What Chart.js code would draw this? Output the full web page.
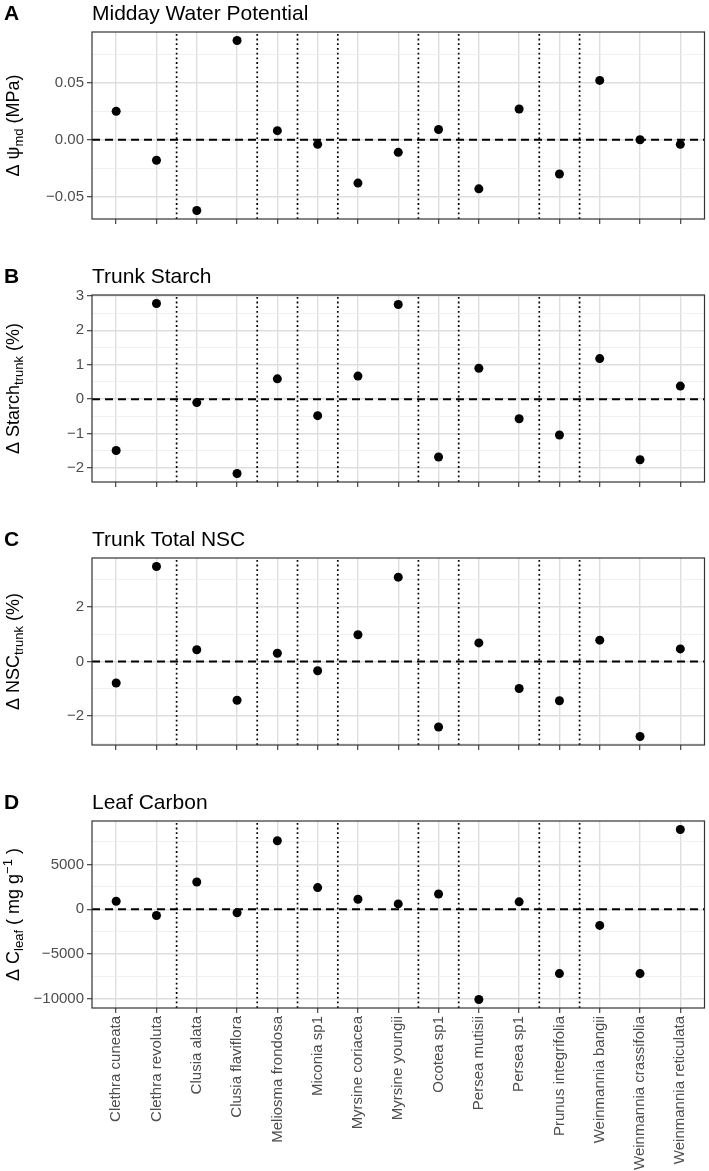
<!DOCTYPE html>
<html><head><meta charset="utf-8">
<script src="https://cdn.jsdelivr.net/npm/chart.js@4.4.1/dist/chart.umd.min.js"></script>
<style>
html,body{margin:0;padding:0;background:#fff;}
#wrap{position:relative;width:709px;height:1171px;overflow:hidden;}
canvas{position:absolute;left:0;}
</style></head><body>
<div id="wrap">
<canvas id="cA" width="709" height="263" style="top:0px"></canvas>
<canvas id="cB" width="709" height="263" style="top:263px"></canvas>
<canvas id="cC" width="709" height="263" style="top:526px"></canvas>
<canvas id="cD" width="709" height="382" style="top:789px"></canvas>
</div>
<script>
// ---------- data ----------
const species = ['Clethra cuneata','Clethra revoluta','Clusia alata','Clusia flaviflora','Meliosma frondosa',
  'Miconia sp1','Myrsine coriacea','Myrsine youngii','Ocotea sp1','Persea mutisii','Persea sp1',
  'Prunus integrifolia','Weinmannia bangii','Weinmannia crassifolia','Weinmannia reticulata'];

const waterPotential = [0.025, -0.018, -0.062, 0.087, 0.008, -0.004, -0.038, -0.011, 0.009, -0.043, 0.027, -0.030, 0.052, 0.000, -0.004];
const trunkStarch   = [-1.49, 2.78, -0.10, -2.16, 0.59, -0.48, 0.67, 2.75, -1.68, 0.90, -0.57, -1.04, 1.18, -1.76, 0.38];
const trunkNSC      = [-0.79, 3.48, 0.43, -1.42, 0.30, -0.34, 0.98, 3.09, -2.40, 0.68, -0.99, -1.44, 0.78, -2.75, 0.46];
const leafCarbon    = [890, -700, 3030, -400, 7630, 2410, 1110, 590, 1700, -10070, 820, -7180, -1810, -7180, 8890];

const wpTickValues = [-0.05, 0, 0.05];
const wpTickLabels = ['\u22120.05', '0.00', '0.05'];
const starchTickValues = [-2, -1, 0, 1, 2, 3];
const starchTickLabels = ['\u22122', '\u22121', '0', '1', '2', '3'];
const nscTickValues = [-2, 0, 2];
const nscTickLabels = ['\u22122', '0', '2'];
const leafTickValues = [-10000, -5000, 0, 5000];
const leafTickLabels = ['\u221210000', '\u22125000', '0', '5000'];

// ---------- styling ----------
const FONT = '"Liberation Sans", Arial, Helvetica, sans-serif';
const GRID_MAJOR = '#dedede';
const GRID_MINOR = '#ececec';
const AXIS_DARK = '#333333';
const TICK_TEXT = '#4d4d4d';

// genus boundaries (where genus changes between neighbours)
const genus = species.map(s => s.split(' ')[0]);
const separators = [];
for (let i = 1; i < genus.length; i++) if (genus[i] !== genus[i-1]) separators.push(i + 0.5);

const XMIN = 0.4, XMAX = species.length + 0.6;

const decor = {
  id: 'decor',
  afterDraw(chart, args, o) {
    const {ctx, chartArea: a} = chart;
    ctx.save();
    ctx.strokeStyle = AXIS_DARK; ctx.lineWidth = 1.2;
    ctx.strokeRect(a.left, a.top, a.right - a.left, a.bottom - a.top);
    ctx.fillStyle = '#000';
    ctx.textBaseline = 'alphabetic';
    ctx.textAlign = 'left';
    ctx.font = 'bold 21px ' + FONT;
    ctx.fillText(o.letter, 4, 20);
    ctx.font = '21px ' + FONT;
    ctx.fillText(o.title, a.left, 20);
    // y title with sub/superscripts
    const parts = o.yTitle;
    let total = 0;
    parts.forEach(p => { ctx.font = (p.size || 18) + 'px ' + FONT; p.w = ctx.measureText(p.t).width; total += p.w; });
    ctx.translate(14, (a.top + a.bottom) / 2);
    ctx.rotate(-Math.PI / 2);
    let x = -total / 2;
    parts.forEach(p => {
      ctx.font = (p.size || 18) + 'px ' + FONT;
      ctx.fillText(p.t, x, 5 + (p.dy || 0));
      x += p.w;
    });
    ctx.restore();
  }
};

function makePanel(id, cfg) {
  const vals = cfg.values;
  const dmin = Math.min(...vals), dmax = Math.max(...vals);
  const pad = (dmax - dmin) * 0.05;
  const lo = dmin - pad, hi = dmax + pad;
  const step = cfg.tickValues[1] - cfg.tickValues[0];
  const all = [];
  cfg.tickValues.forEach((v, i) => all.push({value: v, label: cfg.tickLabels[i], major: true}));
  const candidates = [cfg.tickValues[0] - step / 2];
  cfg.tickValues.forEach(v => candidates.push(v + step / 2));
  candidates.forEach(v => { if (v >= lo && v <= hi) all.push({value: v, label: '', major: false}); });
  all.sort((p, q) => p.value - q.value);

  const datasets = [];
  datasets.push({
    data: vals.map((v, i) => ({x: i + 1, y: v})),
    pointRadius: 4.5, pointBackgroundColor: '#000', pointBorderWidth: 0,
    showLine: false, order: 0
  });
  datasets.push({
    data: [{x: XMIN, y: 0}, {x: XMAX, y: 0}],
    showLine: true, borderColor: '#000', borderWidth: 2, borderDash: [8, 5],
    pointRadius: 0, order: 1
  });
  separators.forEach(s => datasets.push({
    data: [{x: s, y: lo}, {x: s, y: hi}],
    showLine: true, borderColor: '#000', borderWidth: 1.7, borderDash: [1.8, 2.9],
    pointRadius: 0, order: 2
  }));

  new Chart(document.getElementById(id), {
    type: 'scatter',
    data: {datasets},
    options: {
      responsive: false, animation: false, events: [],
      layout: {padding: {left: 0, right: 2, top: 32, bottom: 0}},
      plugins: {legend: {display: false}, tooltip: {enabled: false},
        decor: {letter: cfg.letter, title: cfg.title, yTitle: cfg.yTitle}},
      scales: {
        x: {
          type: 'linear', min: XMIN, max: XMAX,
          afterBuildTicks: s => { s.ticks = species.map((_, i) => ({value: i + 1})); },
          afterFit: s => { s.height = cfg.xHeight; },
          ticks: {display: cfg.showX, autoSkip: false, minRotation: 90, maxRotation: 90,
            callback: (v, i) => species[i], color: TICK_TEXT, font: {family: FONT, size: 15}, padding: 3},
          grid: {color: GRID_MAJOR, lineWidth: 1.4, tickColor: AXIS_DARK, tickLength: 5, tickWidth: 1.1},
          border: {display: false}
        },
        y: {
          type: 'linear', min: lo, max: hi,
          afterBuildTicks: s => { s.ticks = all.map(t => ({value: t.value})); },
          afterFit: s => { s.width = 92; },
          ticks: {autoSkip: false, callback: (v, i) => all[i].label, color: TICK_TEXT,
            font: {family: FONT, size: 15}, padding: 3},
          grid: {
            color: c => (all[c.index] && all[c.index].major) ? GRID_MAJOR : GRID_MINOR,
            lineWidth: c => (all[c.index] && all[c.index].major) ? 1.4 : 0.8,
            tickColor: c => (all[c.index] && all[c.index].major) ? AXIS_DARK : 'rgba(0,0,0,0)',
            tickLength: 5, tickWidth: 1.1
          },
          border: {display: false}
        }
      }
    },
    plugins: [decor]
  });
}

makePanel('cA', {values: waterPotential, tickValues: wpTickValues, tickLabels: wpTickLabels,
  letter: 'A', title: 'Midday Water Potential', showX: false, xHeight: 44,
  yTitle: [{t: '\u0394 \u03c8'}, {t: 'md', size: 13, dy: 4}, {t: ' (MPa)'}]});
makePanel('cB', {values: trunkStarch, tickValues: starchTickValues, tickLabels: starchTickLabels,
  letter: 'B', title: 'Trunk Starch', showX: false, xHeight: 44,
  yTitle: [{t: '\u0394 Starch'}, {t: 'trunk', size: 13, dy: 4}, {t: ' (%)'}]});
makePanel('cC', {values: trunkNSC, tickValues: nscTickValues, tickLabels: nscTickLabels,
  letter: 'C', title: 'Trunk Total NSC', showX: false, xHeight: 44,
  yTitle: [{t: '\u0394 NSC'}, {t: 'trunk', size: 13, dy: 4}, {t: ' (%)'}]});
makePanel('cD', {values: leafCarbon, tickValues: leafTickValues, tickLabels: leafTickLabels,
  letter: 'D', title: 'Leaf Carbon', showX: true, xHeight: 163,
  yTitle: [{t: '\u0394 C'}, {t: 'leaf', size: 13, dy: 4}, {t: ' ( mg g'}, {t: '\u22121', size: 13, dy: -7}, {t: ' )'}]});
</script>
</body></html>
